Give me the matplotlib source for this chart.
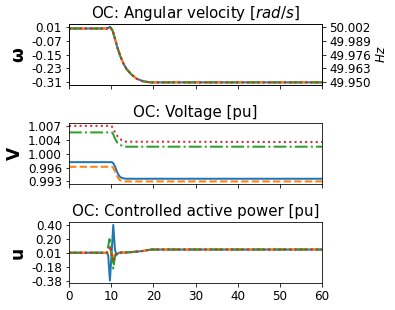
import numpy as np
import matplotlib
matplotlib.use("Agg")
import matplotlib.pyplot as plt
from matplotlib.ticker import FormatStrFormatter

# angular velocity deviation, all four controllers nearly identical
t_w = [0, 9.0, 9.72, 10.36, 10.91, 11.45, 12.09, 12.88, 13.68, 14.87, 16.05, 17.62, 19.21, 60]
w_dev = [0.0, 0.0, 0.010, -0.013, -0.060, -0.108, -0.155, -0.202, -0.236, -0.268, -0.291, -0.306, -0.312, -0.312]

# voltage
t_v = [0, 9.9, 10.2, 10.5, 10.9, 11.5, 12.0, 12.5, 13.5, 60]
v_blue = [0.9978, 0.9978, 0.9978, 0.9975, 0.9967, 0.9950, 0.9941, 0.9937, 0.9935, 0.9935]
v_orange = [0.9966, 0.9966, 0.9966, 0.9963, 0.9955, 0.9940, 0.9932, 0.9929, 0.9928, 0.9928]
v_green = [1.0055, 1.0055, 1.0055, 1.0050, 1.0039, 1.0028, 1.0023, 1.0021, 1.0018, 1.0018]
v_red = [1.0072, 1.0072, 1.0070, 1.0064, 1.0055, 1.0045, 1.0039, 1.0035, 1.0031, 1.0030]

# controlled active power: spike around the event, then a common tail
t_u_blue = [0, 9.0, 9.3, 9.7, 10.1, 10.5, 10.9, 11.3]
u_blue = [0.01, 0.01, -0.03, -0.378, 0.0, 0.398, 0.05, -0.02]
t_u_orange = [0, 9.0, 9.4, 9.8, 10.3, 10.8, 11.3]
u_orange = [0.01, 0.01, 0.02, 0.06, -0.08, -0.02, 0.0]
t_u_green = [0, 9.0, 9.6, 10.0, 10.5, 10.9, 11.3]
u_green = [0.01, 0.01, 0.20, 0.05, -0.21, -0.05, 0.0]
t_u_red = [0, 9.0, 9.4, 9.8, 10.4, 10.9, 11.3]
u_red = [0.01, 0.01, 0.04, 0.10, -0.12, -0.02, 0.0]
t_u_tail = [11.8, 14.0, 16.0, 17.5, 19.0, 19.6, 60]
u_tail = [0.01, 0.015, 0.025, 0.035, 0.05, 0.055, 0.055]

styles = [("C0", "-"), ("C1", "--"), ("C2", "-."), ("C3", ":")]
lw = 2

fig, axes = plt.subplots(3, 1, figsize=(395 / 72, 310 / 72), dpi=72, sharex=True)
fig.subplots_adjust(left=0.1747, right=0.8152, top=0.9226, bottom=0.0861, hspace=0.62)

def set_ticks(ax, lo, hi, fmt):
    ticks = np.linspace(lo, hi, 5)
    ax.set_yticks(ticks)
    ax.yaxis.set_major_formatter(FormatStrFormatter(fmt))
    return ticks

# top panel
ax = axes[0]
for c, ls in styles:
    ax.plot(t_w, w_dev, color=c, linestyle=ls, linewidth=lw)
ax.set_title("OC: Angular velocity [$rad/s$]", fontsize=15)
ax.set_ylabel("ω", fontsize=17, fontweight="bold")
ticks = set_ticks(ax, min(w_dev), max(w_dev), "%.2f")
ax2 = ax.twinx()
lo, hi = ax.get_ylim()
ax2.set_ylim(50 + lo / (2 * np.pi), 50 + hi / (2 * np.pi))
ax2.set_yticks(50 + ticks / (2 * np.pi))
ax2.yaxis.set_major_formatter(FormatStrFormatter("%.3f"))
ax2.set_ylabel("$Hz$", fontsize=12)
ax2.tick_params(labelsize=12)

# middle panel
ax = axes[1]
for (c, ls), v in zip(styles, [v_blue, v_orange, v_green, v_red]):
    ax.plot(t_v, v, color=c, linestyle=ls, linewidth=lw)
ax.set_title("OC: Voltage [pu]", fontsize=15)
ax.set_ylabel("V", fontsize=17, fontweight="bold")
all_v = v_blue + v_orange + v_green + v_red
set_ticks(ax, min(all_v), max(all_v), "%.3f")

# bottom panel
ax = axes[2]
u_sets = [(t_u_blue, u_blue), (t_u_orange, u_orange), (t_u_green, u_green), (t_u_red, u_red)]
all_u = list(u_tail)
for (c, ls), (tt, uu) in zip(styles, u_sets):
    ax.plot(tt + t_u_tail, uu + u_tail, color=c, linestyle=ls, linewidth=lw)
    all_u += uu
ax.set_title("OC: Controlled active power [pu]", fontsize=15)
ax.set_ylabel("u", fontsize=17, fontweight="bold")
set_ticks(ax, min(all_u), max(all_u), "%.2f")

for ax in axes:
    ax.tick_params(labelsize=12)
axes[2].set_xlim(0, 60)
axes[2].set_xticks([0, 10, 20, 30, 40, 50, 60])

fig.savefig("out.png", dpi=72)
